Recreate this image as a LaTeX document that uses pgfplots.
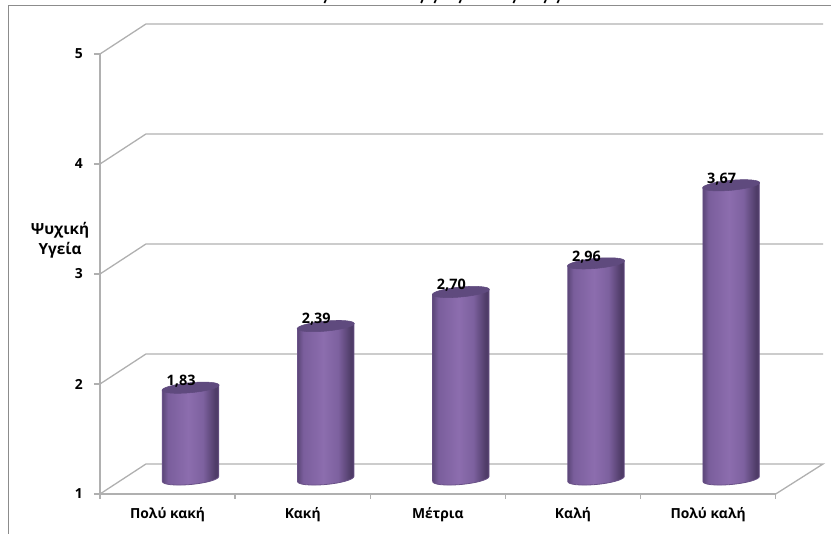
\documentclass[border=0pt]{standalone}
\usepackage{fontspec}
\setmainfont{Open Sans}
\usepackage{pgfplots}
\pgfplotsset{compat=1.18}
\newdimen\PX \PX=0.75pt
\definecolor{gridgray}{HTML}{B0B0B0}
\definecolor{framegray}{HTML}{8C8C8C}
\definecolor{capviolet}{HTML}{5F4A7E}
\definecolor{rimviolet}{HTML}{6A5288}
\definecolor{cylA}{HTML}{5C4779}
\definecolor{cylB}{HTML}{7A5E9C}
\definecolor{cylC}{HTML}{8C6DAE}
\definecolor{cylD}{HTML}{7D619F}
\definecolor{cylE}{HTML}{4F3C68}
% Horizontal lighting across the cylinder body
\pgfdeclarehorizontalshading{cylbody}{100bp}{
  color(0bp)=(cylA);
  color(25bp)=(cylA);
  color(30bp)=(cylB);
  color(48bp)=(cylC);
  color(61bp)=(cylD);
  color(72bp)=(cylE);
  color(100bp)=(cylE)}
% Cylinder drawn downward from its top centre; \barrise is the value above the floor
\pgfdeclareplotmark{cylinder}{%
  \path[shade,shading=cylbody,draw=rimviolet,line width=0.8\PX]
    (-28.2\PX,0pt) -- (-28.2\PX,-110*\barrise\PX)
    arc[start angle=180,end angle=360,x radius=28.2\PX,y radius=5.5\PX]
    -- (28.2\PX,0pt) -- cycle;
  \fill[capviolet] (0pt,0pt) ellipse[x radius=28.5\PX,y radius=5\PX];}
\begin{document}
\begin{tikzpicture}[x=1pt,y=1pt]
  \path[use as bounding box] (0pt,0pt) rectangle (831\PX,534\PX);
  % Outer chart frame
  \draw[framegray,line width=1\PX] (8.5\PX,0pt) -- (8.5\PX,528.8\PX) -- (831\PX,528.8\PX);
  % Lower edge of the heading, cut off by the top of the sheet
  \foreach \q in {325,421.7,435,460,514,545,558}
    \draw[black,line width=1.7\PX] (\q\PX+0.8\PX,534\PX) -- (\q\PX-0.6\PX,531\PX);
  \begin{axis}[
    at={(100\PX,40\PX)},anchor=south west,
    scale only axis,width=675.7\PX,height=440\PX,
    xmin=-0.5,xmax=4.5,ymin=1,ymax=5,
    clip=false,
    axis x line*=bottom,axis y line*=left,
    axis line style={gridgray,line width=1.3\PX,-},
    tick style={gridgray,line width=1.3\PX},
    xtick={0,1,2,3,4},
    xticklabels={Πολύ κακή,Κακή,Μέτρια,Καλή,Πολύ καλή},
    minor xtick={-0.5,0.5,1.5,2.5,3.5,4.5},
    major x tick style={draw=none},
    minor tick length=5\PX,
    ytick={1,2,3,4,5},
    major tick length=6\PX,
    tick align=outside,
    /pgf/number format/assume math mode=true,
    tick label style={font=\fontsize{10.4}{12}\selectfont\bfseries,text=black},
    yticklabel style={xshift=-6.5\PX},
    xticklabel style={yshift=-3\PX},
    ylabel={Ψυχική\\Υγεία},
    ylabel style={rotate=-90,align=center,anchor=center,
      font=\fontsize{11.5}{15}\selectfont\bfseries,
      at={(axis description cs:-0.0592,0.5775)}},
  ]
    % Back wall grid lines and the matching side-wall diagonals
    \addplot[gridgray,line width=1.3\PX] coordinates {(-0.5,1)(-0.16,1.2727)(4.85,1.2727)(4.5,1)};
    \addplot[gridgray,line width=1.3\PX] coordinates {(-0.5,2)(-0.16,2.2727)(4.85,2.2727)};
    \addplot[gridgray,line width=1.3\PX] coordinates {(-0.5,3)(-0.16,3.2727)(4.85,3.2727)};
    \addplot[gridgray,line width=1.3\PX] coordinates {(-0.5,4)(-0.16,4.2727)(4.85,4.2727)};
    \addplot[gridgray,line width=1.3\PX] coordinates {(-0.5,5)(-0.16,5.2727)(4.85,5.2727)};
    % Mean score for each self-rated health group
    \addplot[
      only marks,scatter,point meta=y,
      mark=cylinder,
      mark options={xshift=23\PX,yshift=15\PX,yslant=0.09},
      visualization depends on={y-1 \as \barrise},
      nodes near coords={\pgfmathprintnumber[fixed,fixed zerofill,precision=2,use comma,assume math mode=true]{\pgfplotspointmeta}},
      nodes near coords style={anchor=center,xshift=-9.5\PX,yshift=6.5\PX,
        text=black,font=\fontsize{10.8}{12}\selectfont\bfseries},
    ] coordinates {(0,1.83)(1,2.39)(2,2.70)(3,2.96)(4,3.67)};
  \end{axis}
\end{tikzpicture}
\end{document}
